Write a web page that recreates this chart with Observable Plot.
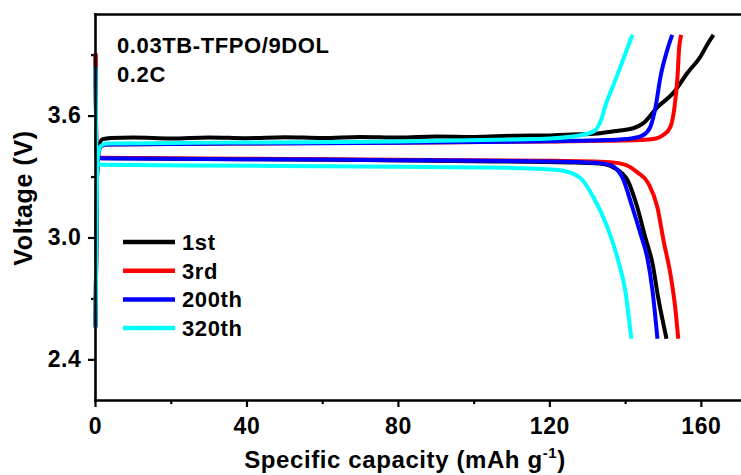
<!DOCTYPE html>
<html>
<head>
<meta charset="utf-8">
<script src="https://cdn.jsdelivr.net/npm/d3@7"></script>
<script src="https://cdn.jsdelivr.net/npm/@observablehq/plot@0.6"></script>
<style>
  html, body { margin: 0; padding: 0; background: #fff; overflow: hidden; }
  svg { display: block; }
  svg text { letter-spacing: 0.6px; }
</style>
</head>
<body>
<div id="chart"></div>
<script>
// ---- Data ----
const seriesNames = ["1st", "3rd", "200th", "320th"];
const seriesColors = ["#000000", "#ff0000", "#0000ff", "#00ffff"];

// Charge curves [capacity mAh/g, voltage V]
const charge1st = [[0,2.57],[0.4,3.3],[0.9,3.45],[1.8,3.485],[4,3.492],[10,3.494],[20,3.49],[30,3.495],[40,3.491],[50,3.496],[60,3.492],[70,3.497],[80,3.494],[90,3.499],[100,3.497],[110,3.503],[120,3.505],[128,3.51],[133.3,3.516],[138,3.528],[142,3.54],[144.7,3.565],[148.4,3.644],[152.6,3.714],[156.3,3.812],[159.7,3.891],[161.8,3.96],[163.2,4.0]];
const charge3rd = [[0,2.56],[0.4,3.3],[0.8,3.42],[1.5,3.452],[3,3.46],[40,3.465],[80,3.469],[120,3.475],[135,3.478],[143.9,3.482],[148,3.49],[149.8,3.505],[151.8,3.546],[152.9,3.644],[153.7,3.793],[154.1,3.926],[154.7,4.0]];
const charge200th = [[0,2.56],[0.4,3.3],[0.8,3.42],[1.5,3.452],[3,3.46],[40,3.465],[80,3.469],[120,3.476],[135,3.482],[141.5,3.49],[144.5,3.505],[146.5,3.546],[147.9,3.644],[149.2,3.793],[151,3.926],[152.3,4.0]];
const charge320th = [[0,2.56],[0.4,3.3],[0.7,3.41],[1.5,3.455],[3,3.465],[40,3.47],[80,3.475],[110,3.485],[120,3.49],[128.1,3.506],[131.8,3.528],[133.5,3.58],[134.8,3.66],[136.5,3.74],[138.6,3.842],[141.8,4.0]];

// Discharge curves [capacity mAh/g, voltage V]
const discharge1st = [[0,3.9],[0.3,3.41],[1.5,3.393],[20,3.39],[60,3.385],[100,3.378],[125,3.372],[133,3.366],[137,3.345],[140.5,3.284],[143.1,3.15],[145.2,3.002],[147.1,2.874],[148.6,2.706],[150.8,2.504]];
const discharge3rd = [[0,3.91],[0.3,3.41],[1.5,3.395],[40,3.39],[80,3.385],[120,3.38],[136,3.373],[140,3.36],[143.1,3.323],[146,3.269],[148.4,3.15],[150,2.988],[151.8,2.825],[153.1,2.657],[153.9,2.504]];
const discharge200th = [[0,3.84],[0.3,3.40],[1.5,3.393],[40,3.388],[80,3.383],[120,3.377],[132,3.37],[136,3.358],[139.1,3.299],[141.8,3.15],[143.9,3.022],[145.7,2.904],[147.1,2.74],[148.4,2.504]];
const discharge320th = [[0,3.84],[0.3,3.37],[1.5,3.36],[40,3.356],[80,3.35],[110,3.345],[118,3.34],[122.8,3.333],[128.1,3.294],[131.5,3.2],[135.2,3.052],[137.8,2.904],[139.9,2.741],[141.5,2.504]];

const xTicksMajor = [0, 40, 80, 120, 160];
const xTicksMinor = [20, 60, 100, 140];
const yTicksMajor = [2.4, 3.0, 3.6];
const yTicksMinor = [2.7, 3.3, 3.9];

const annotationLines = ["0.03TB-TFPO/9DOL", "0.2C"];
const xLabelMain = "Specific capacity (mAh g";
const xLabelSup = "-1";
const xLabelEnd = ")";
const yLabel = "Voltage (V)";

// ---- Build table ----
const chargeSets = [charge1st, charge3rd, charge200th, charge320th];
const dischargeSets = [discharge1st, discharge3rd, discharge200th, discharge320th];
const rows = [];
seriesNames.forEach((name, i) => {
  chargeSets[i].forEach(([c, v]) => rows.push({series: name, seg: name + "-c", cap: c, v}));
  dischargeSets[i].forEach(([c, v]) => rows.push({series: name, seg: name + "-d", cap: c, v}));
});

const FONT = "'Liberation Sans', Arial, Helvetica, sans-serif";

const axisStyle = {fontSize: 23, fontWeight: "bold", fontFamily: FONT, strokeWidth: 2.2, label: null};

const plot = Plot.plot({
  width: 741,
  height: 475,
  marginLeft: 95,
  marginRight: 0,
  marginTop: 14,
  marginBottom: 75,
  style: {fontFamily: FONT, background: "#fff", color: "#000", overflow: "visible"},
  x: {domain: [0, 170.6]},
  y: {domain: [2.2, 4.1]},
  color: {domain: seriesNames, range: seriesColors},
  marks: [
    Plot.axisX(xTicksMajor, {...axisStyle, tickSize: 7, tickPadding: 10}),
    Plot.axisX(xTicksMinor, {...axisStyle, tickSize: 4, text: null}),
    Plot.axisY(yTicksMajor, {...axisStyle, tickSize: 7, tickPadding: 7, tickFormat: d3.format(".1f")}),
    Plot.axisY(yTicksMinor, {...axisStyle, tickSize: 4, text: null}),
    Plot.line(rows, {
      x: "cap", y: "v", z: "seg", stroke: "series",
      strokeWidth: 4, curve: "monotone-x",
      strokeLinejoin: "round", strokeLinecap: "butt"
    }),
    Plot.frame({anchor: "top", strokeWidth: 2.6}),
    Plot.frame({anchor: "bottom", strokeWidth: 2.6}),
    Plot.frame({anchor: "left", strokeWidth: 2.6})
  ]
});

document.getElementById("chart").appendChild(plot);

// ---- Extra text: annotation, axis labels, legend ----
const svg = d3.select(plot);
const ann = svg.append("g")
  .attr("font-family", FONT).attr("font-weight", "bold").attr("font-size", 22)
  .attr("text-anchor", "start").attr("fill", "#000");
annotationLines.forEach((t, i) => {
  ann.append("text").attr("x", 117).attr("y", 53 + i * 29).text(t);
});

svg.append("text")
  .attr("font-family", FONT).attr("font-weight", "bold").attr("font-size", 25)
  .attr("text-anchor", "middle")
  .attr("transform", "translate(32,198) rotate(-90)")
  .text(yLabel);

const xl = svg.append("text")
  .attr("font-family", FONT).attr("font-weight", "bold").attr("font-size", 24)
  .attr("text-anchor", "middle")
  .attr("x", 405).attr("y", 468);
xl.append("tspan").text(xLabelMain);
xl.append("tspan").attr("font-size", 15).attr("dy", -10).text(xLabelSup);
xl.append("tspan").attr("dy", 10).text(xLabelEnd);

const leg = svg.append("g").attr("font-family", FONT).attr("font-weight", "bold")
  .attr("font-size", 22).attr("text-anchor", "start");
seriesNames.forEach((name, i) => {
  const y = 242 + i * 28.7;
  leg.append("line").attr("x1", 123).attr("x2", 175).attr("y1", y).attr("y2", y)
    .attr("stroke", seriesColors[i]).attr("stroke-width", 4.5);
  leg.append("text").attr("x", 182).attr("y", y + 8).text(name);
});
</script>
</body>
</html>
